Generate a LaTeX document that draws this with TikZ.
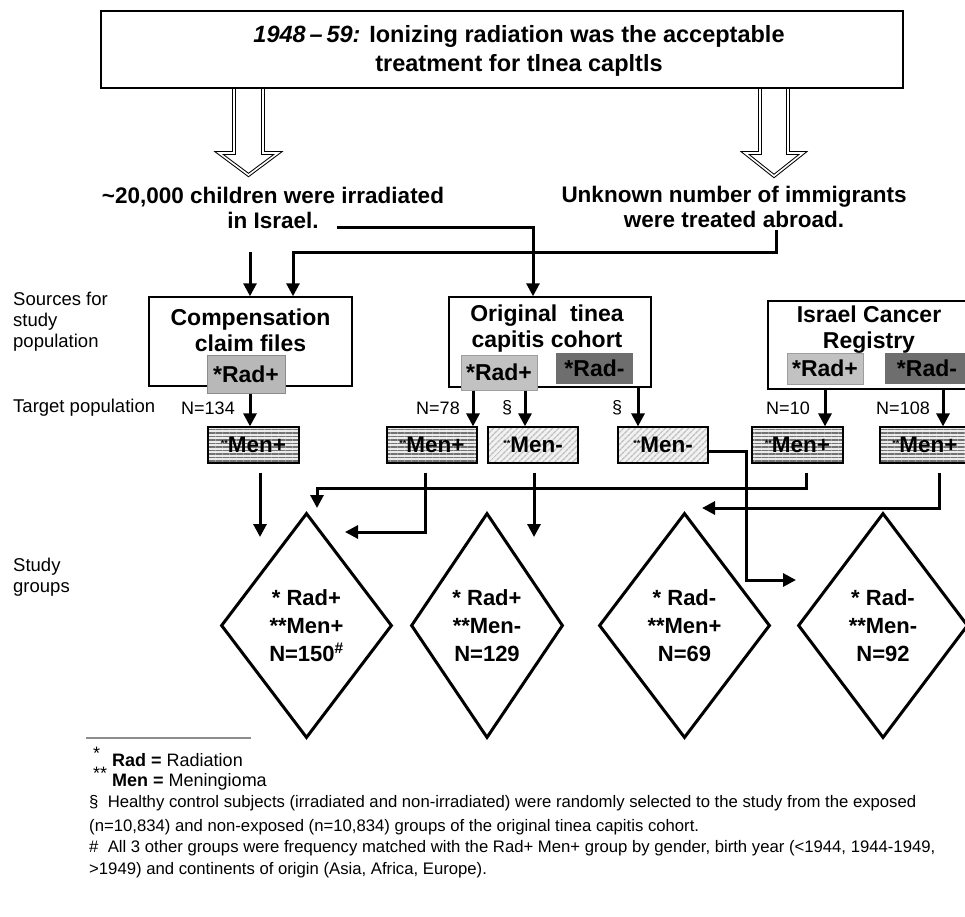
\documentclass[tikz,border=0pt]{standalone}
\usepackage{fontspec}
\setmainfont{Liberation Sans}
\usetikzlibrary{arrows.meta,patterns,patterns.meta,shapes.geometric}
\newcommand{\mystars}{{\fontsize{9}{9}\selectfont\raisebox{6pt}{**}}}
\begin{document}
\begin{tikzpicture}[x=1pt,y=1pt,
  conn/.style={line width=3pt,-{Triangle[width=13pt,length=13pt]}},
  hollow/.style={draw=black,line width=1pt,double=white,double distance=1.6pt,line join=miter},
  srcbox/.style={draw=black,line width=1.5pt,fill=white,inner sep=0pt},
  toptxt/.style={font=\fontsize{23.5}{29}\selectfont\bfseries,align=center,inner sep=0pt},
  midtxt/.style={font=\fontsize{22.5}{25}\selectfont\bfseries,align=center,inner sep=0pt},
  title/.style={font=\fontsize{23}{26}\selectfont\bfseries,align=center,inner sep=0pt},
  lbl/.style={font=\fontsize{18.5}{21}\selectfont,align=left,inner sep=0pt,anchor=west},
  nlbl/.style={font=\fontsize{18}{20}\selectfont,inner sep=0pt},
  radp/.style={fill=black!28,draw=black!45,line width=1pt,inner sep=0pt,font=\fontsize{23}{24}\selectfont\bfseries},
  radpl/.style={fill=black!24,draw=black!38,line width=1pt,inner sep=0pt,font=\fontsize{23}{24}\selectfont\bfseries},
  radm/.style={fill=black!57,inner sep=0pt,font=\fontsize{23}{24}\selectfont\bfseries},
  menp/.style={draw=black,line width=1.2pt,preaction={fill=black!8},pattern={Lines[angle=0,distance=3.5pt,line width=1.3pt]},pattern color=black!55,minimum height=36pt,inner sep=0pt,font=\fontsize{22.5}{24}\selectfont\bfseries},
  menm/.style={draw=black,line width=1.2pt,preaction={fill=black!5},pattern={Lines[angle=45,distance=4pt,line width=1.4pt]},pattern color=black!25,minimum height=36pt,inner sep=0pt,font=\fontsize{22.5}{24}\selectfont\bfseries},
  dia/.style={shape=diamond,draw=black,line width=3pt,aspect=0.75,inner sep=0pt,minimum height=225pt,font=\fontsize{22}{28}\selectfont\bfseries,align=center},
  fn/.style={font=\fontsize{16.7}{18}\selectfont,anchor=west,inner sep=0pt},
  fnkey/.style={font=\fontsize{18}{19}\selectfont,anchor=west,inner sep=0pt}
]
\useasboundingbox (0,0) rectangle (965,-916);
\clip (0,0) rectangle (965,-916);

% hollow arrows
\draw[hollow] (234,-86) -- (234,-153) -- (219,-153) -- (248.5,-175) -- (278,-153) -- (263,-153) -- (263,-86);
\draw[hollow] (760,-86) -- (760,-153) -- (745,-153) -- (774,-176) -- (803,-153) -- (788,-153) -- (788,-86);

% top box
\node[srcbox,minimum width=802pt,minimum height=77pt] (top) at (502,-49.5) {};
\node[toptxt] (toptext) at (519,-50.5) {\textit{1948\,–\,59:} Ionizing radiation was the acceptable\\treatment for tlnea capltls};

% second level texts
\node[midtxt] (child) at (273,-208) {\textasciitilde 20,000 children were irradiated\\in Israel.};
\node[midtxt] (immig) at (734,-207) {Unknown number of immigrants\\were treated abroad.};

% source boxes
\node[srcbox,minimum width=203pt,minimum height=89pt] (comp) at (250.5,-341.5) {};
\node[title] (comptitle) at (250.5,-330) {Compensation\\claim files};
\node[radp,minimum width=78pt,minimum height=38pt] (cradp) at (246,-374) {*Rad+};

\node[srcbox,minimum width=202pt,minimum height=90pt] (orig) at (550,-342) {};
\node[title] (origtitle) at (547,-329) {Original\ \ tinea\\capitis cohort};
\node[radpl,minimum width=76pt,minimum height=35pt] (oradp) at (499,-372.5) {*Rad+};
\node[radm,minimum width=77pt,minimum height=31pt] (oradm) at (594.5,-368.5) {*Rad-};

\node[srcbox,minimum width=207pt,minimum height=88pt] (icr) at (871.5,-345) {};
\node[title] (icrtitle) at (869,-329.5) {Israel Cancer\\Registry};
\node[radpl,minimum width=76pt,minimum height=31pt] (iradp) at (825,-368.5) {*Rad+};
\node[radm,minimum width=84pt,minimum height=31pt] (iradm) at (927,-368.5) {*Rad-};

% row labels
\node[lbl] (srclbl) at (13,-322) {Sources for\\study\\population};
\node[lbl] (tgtlbl) at (13,-408) {Target population};
\node[lbl] (stdlbl) at (13,-577) {Study\\groups};

% target boxes
\node[menp,minimum width=91pt] (menA) at (253.5,-445) {\mystars Men+};
\node[menp,minimum width=90pt] (menB) at (432,-445) {\mystars Men+};
\node[menm,minimum width=90pt] (menC) at (533,-445) {\mystars Men-};
\node[menm,minimum width=90pt] (menD) at (663,-445) {\mystars Men-};
\node[menp,minimum width=91pt] (menE) at (797.5,-445) {\mystars Men+};
\node[menp,minimum width=90pt] (menF) at (925,-445) {\mystars Men+};

% N labels
\node[nlbl] (nA) at (208,-408) {N=134};
\node[nlbl] (nB) at (438,-408) {N=78};
\node[nlbl] (nC) at (507,-408) {§};
\node[nlbl] (nD) at (617,-408) {§};
\node[nlbl] (nE) at (788,-408) {N=10};
\node[nlbl] (nF) at (903,-408) {N=108};

% diamonds
\node[dia,minimum width=171pt] (d1) at (306.5,-625.5) {* Rad+\\**Men+\\N=150\textsuperscript{\#}};
\node[dia,minimum width=152pt] (d2) at (487,-625.5) {* Rad+\\**Men-\\N=129};
\node[dia,minimum width=171pt] (d3) at (684.5,-625.5) {* Rad-\\**Men+\\N=69};
\node[dia,minimum width=170pt] (d4) at (883,-625.5) {* Rad-\\**Men-\\N=92};

% coordinates for free ends
\coordinate (israelend) at (337,-227);
\coordinate (abroad) at (776,-230);
\coordinate (jn1) at (293,-252);
\coordinate (childarrow) at (250,-252);
\coordinate (tipA) at (260,-537);
\coordinate (tipB) at (345,-532);
\coordinate (tipC) at (534,-537);
\coordinate (jnD) at (746,-580);
\coordinate (tipD) at (796,-580);
\coordinate (jnE) at (317,-488);
\coordinate (tipE) at (317,-508);
\coordinate (tipF) at (702,-508);

% connectors top part
\draw[conn] (israelend) -| ([xshift=-17pt]orig.north);
\draw[conn] (abroad) |- (jn1) -- ([xshift=42.5pt]comp.north);
\draw[conn] (childarrow) -- ([xshift=-0.5pt]comp.north);

% sources to targets
\draw[conn] ([xshift=4pt]cradp.south) -- ([xshift=-3.5pt]menA.north);
\draw[conn] ([xshift=-26pt]oradp.south) -- ([xshift=41pt]menB.north);
\draw[conn] ([xshift=26pt]oradp.south) -- ([xshift=-8pt]menC.north);
\draw[conn] ([xshift=88pt]orig.south) -- ([xshift=-25pt]menD.north);
\draw[conn] ([xshift=-46.5pt]icr.south) -- ([xshift=27.5pt]menE.north);
\draw[conn] ([xshift=71.5pt]icr.south) -- ([xshift=18pt]menF.north);

% targets to study groups
\draw[conn] ([xshift=6.5pt,yshift=-9pt]menA.south) -- (tipA);
\draw[conn] ([xshift=-7pt,yshift=-9pt]menB.south) |- (tipB);
\draw[conn] ([xshift=1pt,yshift=-9pt]menC.south) -- (tipC);
\draw[conn] ([xshift=8.5pt,yshift=-9pt]menE.south) |- (jnE) -- (tipE);
\draw[conn] ([xshift=14pt,yshift=-9pt]menF.south) |- (tipF);
\draw[conn] ([yshift=-6pt]menD.east) -| (jnD) -- (tipD);

% footnotes
\draw[black!45,line width=1.5pt] (86,-738) -- (251,-738);
\node[fnkey] (fn1) at (93,-757) {\raisebox{7pt}{*}\hspace{12pt}\textbf{Rad =} Radiation};
\node[fnkey] (fn2) at (93,-779) {\raisebox{7pt}{**}\hspace{5pt}\textbf{Men =} Meningioma};
\node[fn] (fn3) at (89,-803) {§\ \ Healthy control subjects (irradiated and non-irradiated) were randomly selected to the study from the exposed};
\node[fn] (fn4) at (89,-827) {(n=10,834) and non-exposed (n=10,834) groups of the original tinea capitis cohort.};
\node[fn] (fn5) at (89,-848) {\#\ \ All 3 other groups were frequency matched with the Rad+ Men+ group by gender, birth year (<1944, 1944-1949,};
\node[fn] (fn6) at (89,-870) {>1949) and continents of origin (Asia, Africa, Europe).};
\end{tikzpicture}
\end{document}
